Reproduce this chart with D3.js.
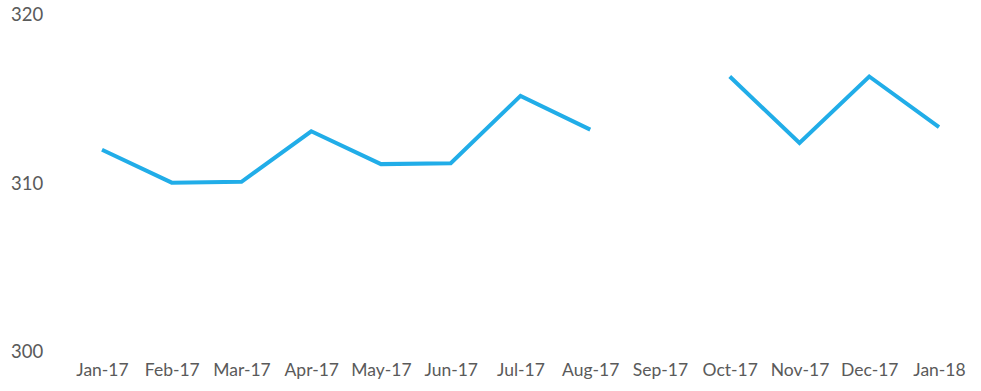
<!DOCTYPE html>
<html>
<head>
<meta charset="utf-8">
<script src="https://cdn.jsdelivr.net/npm/d3@7/dist/d3.min.js"></script>
<style>
  html, body { margin: 0; padding: 0; background: #fff; }
  svg text { font-family: Lato, "Open Sans", sans-serif; fill: #595959; }
</style>
</head>
<body>
<svg id="chart" width="981" height="391"></svg>
<script>
// Monthly readings, Jan-17 to Jan-18 (Sep-17 missing)
const months = ["Jan-17","Feb-17","Mar-17","Apr-17","May-17","Jun-17","Jul-17","Aug-17","Sep-17","Oct-17","Nov-17","Dec-17","Jan-18"];
const values = [312.0, 310.05, 310.1, 313.1, 311.15, 311.2, 315.2, 313.2, null, 316.35, 312.4, 316.35, 313.35];
const yTicks = [300, 310, 320];

const svg = d3.select("#chart");

const x = d3.scalePoint().domain(months).range([102, 939]);
const y = d3.scaleLinear().domain([300, 320]).range([352, 15]);

// y-axis labels, left aligned, no axis line
const yAxis = d3.axisLeft(y).tickValues(yTicks).tickSize(0).tickFormat(d3.format("d"));
const gy = svg.append("g").attr("transform", "translate(11,0)").call(yAxis);
gy.select(".domain").remove();
gy.selectAll("text")
  .attr("text-anchor", "start")
  .attr("x", 0)
  .attr("dy", "0.32em")
  .style("font-size", "18.5px")
  .style("font-family", "Lato, 'Open Sans', sans-serif")
  .style("fill", "#5a5a5a");

// x-axis labels below the plot
const xAxis = d3.axisBottom(x).tickSize(0);
const gx = svg.append("g").attr("transform", "translate(0,364)").call(xAxis);
gx.select(".domain").remove();
gx.selectAll("text")
  .attr("y", 0)
  .attr("dy", "0.71em")
  .style("font-size", "17.5px")
  .style("font-family", "Lato, 'Open Sans', sans-serif")
  .style("fill", "#5a5a5a");

// the series line, broken where a month has no value
const line = d3.line()
  .defined(d => d.v !== null)
  .x(d => x(d.m))
  .y(d => y(d.v));

const data = months.map((m, i) => ({ m, v: values[i] }));

svg.append("path")
  .datum(data)
  .attr("fill", "none")
  .attr("stroke", "#21ade8")
  .attr("stroke-width", 4)
  .attr("stroke-linejoin", "miter")
  .attr("d", line);
</script>
</body>
</html>
